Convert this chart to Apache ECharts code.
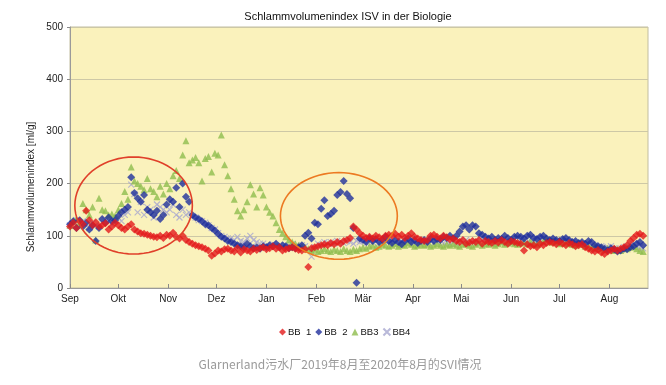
<!DOCTYPE html>
<html>
<head>
<meta charset="utf-8">
<script src="https://cdn.jsdelivr.net/npm/echarts@6/dist/echarts.min.js"></script>
<style>html,body{margin:0;padding:0;background:#fff}#c{width:666px;height:385px}</style>
</head>
<body>
<div id="c"></div>
<script>
// Days since 1 Sep 2019, one reading every 2 days
const stepDays = 2;
const monthStarts = [0, 30, 61, 91, 122, 153, 182, 213, 243, 274, 304, 335];
const monthLabels = ['Sep', 'Okt', 'Nov', 'Dez', 'Jan', 'Feb', 'Mär', 'Apr', 'Mai', 'Jun', 'Jul', 'Aug'];
const yTicks = [0, 100, 200, 300, 400, 500];
const seriesNames = ['BB  1', 'BB  2', 'BB3', 'BB4'];

const bb1 = [
  118,125,115,128,122,148,130,120,126,118,
  120,124,112,118,125,120,115,112,118,122,
  112,108,105,104,102,100,98,97,100,96,
  102,100,106,98,95,100,92,88,85,82,
  80,78,75,72,62,66,72,70,74,75,
  72,70,76,68,74,72,70,75,73,76,
  78,74,76,80,75,78,72,74,76,78,
  75,73,72,74,40,76,78,80,82,84,
  82,86,84,88,85,90,92,96,118,112,
  105,100,96,98,95,100,97,94,100,102,
  100,104,98,102,96,100,105,98,95,92,
  90,92,100,102,98,95,100,97,93,95,
  90,88,92,85,87,90,88,92,85,90,
  88,86,90,87,92,88,85,90,88,86,
  85,72,84,80,82,78,85,82,86,88,
  86,84,88,85,82,86,84,80,82,84,
  78,75,72,70,73,68,65,70,72,75,
  72,75,78,82,90,96,102,104,100
];
const bb2 = [
  122,128,115,130,118,125,112,120,90,115,
  132,125,135,128,130,138,145,150,155,212,
  182,172,165,178,150,145,140,148,132,140,
  160,170,165,192,155,200,175,165,140,135,
  132,128,122,120,115,110,104,98,95,90,
  88,85,82,80,78,85,80,76,78,75,
  80,78,82,80,85,78,82,80,76,78,
  76,78,82,100,106,95,125,122,152,168,
  138,142,148,178,184,205,180,172,115,10,
  95,92,88,96,90,94,88,92,98,90,
  86,92,88,84,90,95,88,92,86,90,
  92,88,95,90,94,92,98,96,100,95,
  100,108,118,120,112,120,118,105,102,98,
  95,98,92,96,94,100,96,92,98,100,
  98,95,100,102,96,94,98,100,95,92,
  95,92,90,94,96,92,88,90,86,88,
  85,90,88,82,80,78,75,72,76,74,
  70,72,75,74,78,80,85,88,82
];
const bb3 = [
  120,128,132,125,162,150,140,155,92,172,
  150,148,140,142,138,150,162,185,170,232,
  205,200,195,188,210,190,185,175,195,180,
  200,190,215,225,210,255,282,240,245,250,
  240,205,248,252,222,258,255,293,236,215,
  190,170,148,138,150,165,198,180,155,192,
  178,155,145,138,125,112,105,98,92,88,
  85,82,80,78,75,72,74,70,72,75,
  72,70,74,72,70,75,72,70,74,72,
  75,78,76,80,82,78,80,84,82,80,
  82,85,80,84,82,86,84,80,82,84,
  82,84,80,82,85,82,80,84,82,85,
  82,80,84,85,82,80,84,86,82,85,
  84,86,82,85,88,84,86,88,85,84,
  86,88,85,90,86,84,88,90,95,88,
  90,88,85,86,88,85,84,82,86,84,
  80,82,78,80,76,78,74,76,75,72,
  74,72,76,75,78,80,75,72,70
];
const bb4 = [
  120,125,130,118,128,122,115,125,120,118,
  125,130,128,122,130,135,128,140,145,198,
  180,145,165,140,155,150,135,160,155,150,
  145,150,160,140,135,150,140,145,138,135,
  130,128,125,120,115,112,105,100,98,95,
  95,92,98,90,88,95,100,92,88,85,
  85,82,80,84,82,80,78,82,80,84,
  80,78,82,80,75,60,78,85,82,88,
  86,88,85,90,88,86,90,88,85,90,
  88,90,86,92,88,90,86,88,90,92,
  90,88,86,90,88,92,90,86,88,90,
  86,88,90,86,88,92,86,88,85,88,
  86,90,88,92,86,88,90,86,92,88,
  90,88,86,92,90,88,86,90,92,88,
  90,92,88,86,90,94,92,96,90,88,
  90,88,86,90,88,86,88,84,86,84,
  82,84,80,82,78,80,76,78,80,76,
  74,76,78,80,82,84,80,78,76
];
// Annotation ellipses in data units: [centerDay, centerValue, halfWidthDays, halfHeightValue]
const ellipses = [
  {c: [39.5, 158, 36.5, 93], color: '#e0402a'},
  {c: [167, 138, 36.3, 83], color: '#ec7a22'}
];

function pairs(vals) { return vals.map((v, i) => [i * stepDays, v]); }

const chart = echarts.init(document.getElementById('c'), null, {renderer: 'canvas'});
const font = 'Liberation Sans, Arial, sans-serif';
const xPath = 'path://M0,0L10,10M10,0L0,10';

const option = {
  animation: false,
  backgroundColor: '#ffffff',
  textStyle: {fontFamily: font},
  grid: {left: 70, right: 18, top: 27, bottom: 97, show: true, backgroundColor: '#faf2bc', borderColor: '#c2bea0', borderWidth: 1},
  xAxis: {
    type: 'value', min: 0, max: 359,
    axisLine: {show: true, onZero: false, lineStyle: {color: '#9a9a9a'}},
    axisTick: {show: true, inside: true, length: 4, customValues: monthStarts, lineStyle: {color: '#8a8a8a'}},
    axisLabel: {customValues: monthStarts, color: '#222', fontSize: 10, fontFamily: font, margin: 6,
      formatter: v => monthLabels[monthStarts.indexOf(v)] || ''},
    splitLine: {show: false}
  },
  yAxis: {
    type: 'value', min: 0, max: 500, interval: 100,
    axisLine: {show: true, lineStyle: {color: '#9a9a9a'}},
    axisTick: {show: true, length: 3, lineStyle: {color: '#8a8a8a'}},
    axisLabel: {color: '#222', fontSize: 10, fontFamily: font, margin: 7, formatter: v => yTicks.includes(v) ? String(v) : ''},
    splitLine: {show: true, lineStyle: {color: '#cdc8a6', width: 1}}
  },
  legend: {
    top: 322, left: 274, itemWidth: 7, itemHeight: 7, itemGap: 4,
    textStyle: {fontSize: 9.5, color: '#111', fontFamily: font, padding: [0, 0, 0, -3]},
    data: seriesNames
  },
  series: [
    {name: seriesNames[3], type: 'scatter', symbol: xPath, symbolSize: 6, data: pairs(bb4), z: 2,
      itemStyle: {color: '#a7a7cf', borderColor: '#a7a7cf', borderWidth: 1.2}},
    {name: seriesNames[2], type: 'scatter', symbol: 'triangle', symbolSize: 7, data: pairs(bb3), z: 3,
      itemStyle: {color: '#8fbd4e'}},
    {name: seriesNames[1], type: 'scatter', symbol: 'diamond', symbolSize: 8, data: pairs(bb2), z: 4,
      itemStyle: {color: '#1f2f9c'}},
    {name: seriesNames[0], type: 'scatter', symbol: 'diamond', symbolSize: 8, data: pairs(bb1), z: 5,
      itemStyle: {color: '#e41a1c'}}
  ],
  graphic: [
    {type: 'text', x: 348, y: 17, style: {text: 'Schlammvolumenindex ISV in der Biologie', font: '11px ' + font, fill: '#111', align: 'center', verticalAlign: 'middle'}},
    {type: 'text', x: 31, y: 187, rotation: Math.PI / 2, style: {text: 'Schlammvolumenindex [ml/g]', font: '10px ' + font, fill: '#222', align: 'center', verticalAlign: 'middle'}},
    {type: 'text', x: 340, y: 364, style: {text: 'Glarnerland污水厂2019年8月至2020年8月的SVI情况', font: '12px "Noto Sans CJK SC", "Noto Sans", sans-serif', fill: '#9a9a9a', align: 'center', verticalAlign: 'middle'}}
  ]
};
chart.setOption(option);

// Ellipse annotations converted from data units into pixels
const extra = ellipses.map(e => {
  const pts = [];
  for (let k = 0; k < 72; k++) {
    const t = k / 72 * Math.PI * 2;
    pts.push(chart.convertToPixel({gridIndex: 0}, [e.c[0] + e.c[2] * Math.cos(t), e.c[1] + e.c[3] * Math.sin(t)]));
  }
  return {type: 'polygon', shape: {points: pts}, style: {fill: 'none', stroke: e.color, lineWidth: 1.6}, z: 10};
});
chart.setOption({graphic: option.graphic.concat(extra)});
</script>
</body>
</html>
